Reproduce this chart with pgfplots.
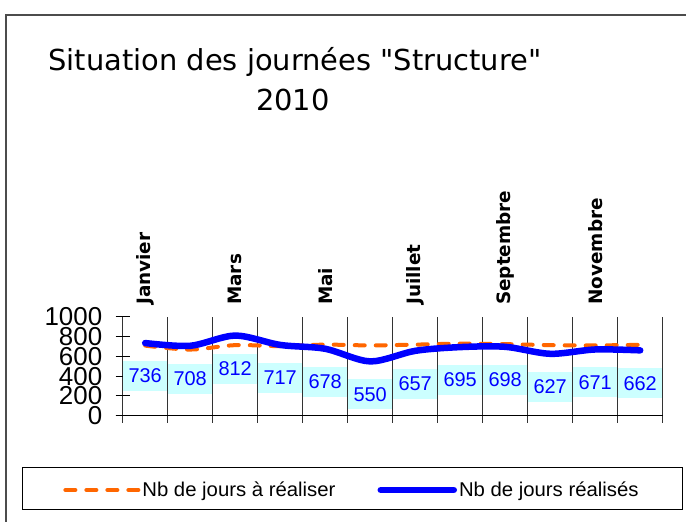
\documentclass[border=0pt]{standalone}
\usepackage{fontspec}
\usepackage{pgfplots}
\pgfplotsset{compat=1.18}
\setmainfont{Liberation Sans}
\newfontfamily\comic{DejaVu Sans}
\newfontfamily\legfont[FakeStretch=1.02]{Liberation Sans}
\definecolor{lineorange}{HTML}{FF6600}
\definecolor{lineblue}{HTML}{0000FF}
\definecolor{labelbg}{HTML}{CCFFFF}
\begin{document}
\begin{tikzpicture}[x=1bp,y=1bp]
\useasboundingbox (0,0) rectangle (686,522);
\draw[line width=1.5bp, black!70] (6,-20) rectangle (720,507);
\draw[line width=1bp] (22,12) rectangle (682,54);
\node[font=\comic\fontsize{29}{32}\selectfont] at (295,460) {Situation des journées "Structure"};
\node[font=\comic\fontsize{29}{32}\selectfont] at (293,422) {2010};
\begin{axis}[
  at={(122.7bp,106.3bp)}, anchor=south west,
  scale only axis, width=540bp, height=98.7bp,
  xmin=-0.5, xmax=11.5, ymin=0, ymax=1000,
  axis line style={draw=none},
  /pgf/number format/assume math mode=true,
  /pgf/number format/set thousands separator={},
  xtick={0,2,4,6,8,10},
  xticklabels={Janvier,Mars,Mai,Juillet,Septembre,Novembre},
  xticklabel pos=upper, xtick pos=lower,
  major x tick style={draw=none},
  minor xtick={-0.5,0.5,...,11.5},
  xminorgrids, minor x grid style={black!80, line width=1bp},
  minor x tick style={black!80, line width=1bp},
  minor tick length=7bp,
  xtick align=outside,
  xticklabel style={font=\comic\bfseries\fontsize{18.5}{18.5}\selectfont, rotate=90, anchor=west, inner sep=0pt, xshift=-2bp},
  ytick={0,200,...,1000}, ytick pos=left, ytick align=center,
  major tick length=14bp,
  y tick style={black, line width=1bp},
  yticklabel style={font=\fontsize{26}{26}\selectfont, anchor=east, xshift=-10bp, inner ysep=0pt},
  extra y ticks={0}, extra y tick labels={},
  extra y tick style={grid=major, major grid style={black, line width=1bp}},
  legend style={draw=none, fill=none, at={(0.4246,-0.753)}, anchor=center,
    legend columns=2, font=\legfont\fontsize{20}{20}\selectfont,
    /tikz/every even column/.append style={column sep=40bp}},
  legend image code/.code={\draw[#1] (0bp,0bp) -- (73bp,0bp);},
  clip=false,
]
\addplot[lineorange, line width=4bp, dash pattern=on 10bp off 11bp, line cap=round, smooth] coordinates {
(0,710) (1,670) (2,715) (3,705) (4,720) (5,712) (6,720) (7,730) (8,725) (9,715) (10,712) (11,718)};
\addlegendentry{Nb de jours à réaliser}
\addplot[lineblue, line width=6.5bp, line cap=round, smooth,
  nodes near coords,
  every node near coord/.append style={font=\fontsize{20}{20}\selectfont, text=lineblue,
    fill=labelbg, minimum width=44bp, minimum height=30bp, inner sep=1bp,
    anchor=center, yshift=-33bp}] coordinates {
(0,736) (1,708) (2,812) (3,717) (4,678) (5,550) (6,657) (7,695) (8,698) (9,627) (10,671) (11,662)};
\addlegendentry{Nb de jours réalisés}
\end{axis}
\end{tikzpicture}
\end{document}
